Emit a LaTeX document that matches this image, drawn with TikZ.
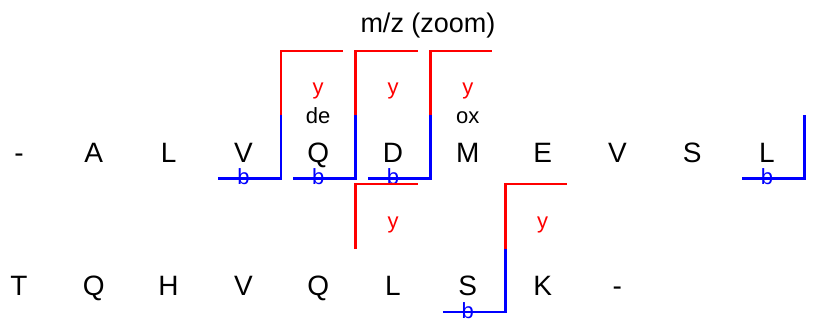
\documentclass[tikz,border=0pt]{standalone}
\usepackage{fontspec}
\setmainfont{Liberation Sans}
\usetikzlibrary{calc}

\begin{document}
\begin{tikzpicture}[x=1pt,y=-1pt,
  res/.style={font=\fontsize{28}{28}\selectfont,inner sep=0pt,anchor=base},
  ion/.style={font=\fontsize{22}{22}\selectfont,inner sep=0pt,anchor=base},
  bline/.style={draw=blue,line width=2.6pt},
  yline/.style={draw=red,line width=2.6pt}]
\useasboundingbox (0,0) rectangle (821,325);
\node[font=\fontsize{27}{27}\selectfont,inner sep=0pt,anchor=base] (title) at (428,32) {m/z (zoom)};
% peptide rows (baselines)
\foreach \a [count=\i from 0] in {-,A,L,V,Q,D,M,E,V,S,L} {
  \node[res] (t\i) at (19+74.8*\i,162) {\a};
}
\foreach \a [count=\i from 0] in {T,Q,H,V,Q,L,S,K,-} {
  \node[res] (u\i) at (19+74.8*\i,295) {\a};
}
% modifications
\node[ion] (de) at ($(t4.base)+(0,-39)$) {de};
\node[ion] (ox) at ($(t6.base)+(0,-39)$) {ox};

% b/y fragment brackets, top row
\foreach \i in {3,4,5} {
  \coordinate (m\i) at ($(t\i.base)+(37.4,0)$);
  \draw[bline] ($(t\i.base)+(-25,16.5)$) -| ($(m\i)+(0,-47)$);
  \draw[yline] ($(m\i)+(0,-47)$) |- ($(m\i)+(62,-111)$);
  \node[ion,blue] (b\i) at ($(t\i.base)+(0,22)$) {b};
  \node[ion,red] (y\i) at ($(t\i.base)+(74.8,-68)$) {y};
}
\coordinate (m10) at ($(t10.base)+(37.4,0)$);
\draw[bline] ($(t10.base)+(-25,16.5)$) -| ($(m10)+(0,-47)$);
\node[ion,blue] (b10) at ($(t10.base)+(0,22)$) {b};

% bottom row
\coordinate (n4) at ($(u4.base)!0.5!(u5.base)$);
\draw[yline] ($(n4)+(0,-46)$) |- ($(n4)+(62,-111)$);
\node[ion,red] (y4b) at ($(u5.base)+(0,-67)$) {y};
\coordinate (n6) at ($(u6.base)!0.5!(u7.base)$);
\draw[bline] ($(u6.base)+(-25,17)$) -| ($(n6)+(0,-46)$);
\draw[yline] ($(n6)+(0,-46)$) |- ($(n6)+(62,-111)$);
\node[ion,blue] (b6b) at ($(u6.base)+(0,23)$) {b};
\node[ion,red] (y6b) at ($(u7.base)+(0,-67)$) {y};
\end{tikzpicture}
\end{document}
